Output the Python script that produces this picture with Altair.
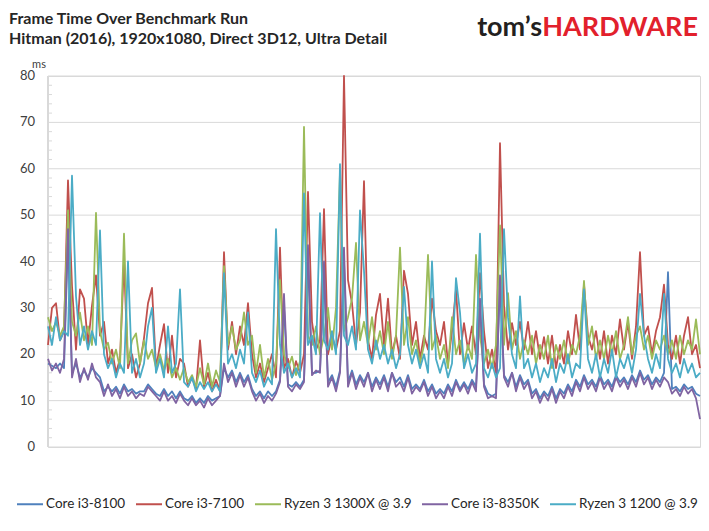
import altair as alt
import pandas as pd

series_names = ["Core i3-8100", "Core i3-7100", "Ryzen 3 1300X @ 3.9",
                "Core i3-8350K", "Ryzen 3 1200 @ 3.9"]
series_colors = ["#4F81BD", "#C0504D", "#9BBB59", "#8064A2", "#4BACC6"]

i3_8100 = [18, 17.5, 17, 18, 17, 45, 16, 18, 15, 16.5,
           15, 17, 16, 15, 12, 13, 12, 13, 11.5, 13.5,
           12, 12.5, 11.5, 12, 12, 13.5, 12.5, 11.5, 11, 12.5,
           11, 12, 10.5, 12, 10.5, 10, 11, 9.5, 10.5, 9.5,
           11, 10, 10.5, 11, 17, 15, 16.5, 14, 16, 14,
           15.5, 12.5, 11, 12, 10.5, 12, 11, 12, 14.5, 30,
           13.5, 13, 14, 13, 14.5, 40, 16, 16, 16.5, 37,
           14, 15.5, 13, 16.5, 40, 14, 16.5, 13.5, 15.5, 14,
           16, 13, 15, 13.5, 15.5, 13, 16, 14, 15, 13,
           15.5, 12.5, 13.5, 12.5, 14.5, 12, 13.5, 11.5, 12.5, 11.5,
           13.5, 12, 14.5, 12.5, 14, 12.5, 14.5, 13, 30, 13.5,
           11.5, 11, 11.5, 35, 15.5, 14, 16, 13, 15.5, 13.5,
           14.5, 11.5, 12.5, 10.5, 12, 11, 13, 10.5, 12.5, 11.5,
           13.5, 12, 14.5, 13, 15.5, 13.5, 14.5, 13, 15.5, 13.5,
           14.5, 13, 15.5, 14, 15, 13.5, 15.5, 14, 16.5, 14.5,
           15.5, 13.5, 15, 14, 16, 37.7, 12.5, 13, 12, 13.5,
           12.5, 13, 11.5, 11]

i3_7100 = [22, 30, 31, 23, 25, 57.5, 34.7, 21, 34, 32,
           22, 30.5, 37, 24, 27, 18, 21, 16, 19, 40,
           17, 20, 15, 18, 23.5, 31, 34.3, 17, 22, 26.5,
           16, 24, 15, 19, 18, 13, 15, 12.5, 23, 13,
           16, 12, 14.5, 12, 42, 21, 27, 20, 26, 22,
           31, 20, 15, 18, 14, 17, 20, 15, 43, 17,
           19, 15, 18.5, 16, 20, 55, 27, 21, 23, 51.3,
           20, 24, 21, 25, 80, 36, 31, 22, 29, 57.3,
           23, 19, 28.5, 33, 22, 32, 20, 24, 19, 38,
           33, 22, 27, 19, 24, 21, 32, 25, 22, 27,
           18, 25, 34, 20, 26.7, 21, 26, 20, 37.5, 25,
           17, 21, 16, 65.5, 30.5, 21, 26.7, 22, 27, 21,
           27, 20, 25, 19, 23.7, 18, 24, 17, 22, 18,
           25, 20, 28.5, 21, 35, 24, 21, 25, 19, 25,
           18, 24, 20, 27.5, 21, 27, 19, 26, 42, 24,
           26, 20, 25, 28, 35, 22, 19, 24, 18, 24,
           28, 20, 22, 17]

r3_1300x = [28, 25, 27, 24, 26, 51, 27, 24, 29, 23,
            26, 22, 50.5, 25, 21, 22.5, 18, 21, 17, 46,
            18, 23, 24.5, 18, 23, 19, 21, 17, 20, 16.5,
            19, 15, 17, 14.5, 17, 14, 15.5, 13, 17, 13.5,
            18, 13, 16.5, 14, 39, 22, 26, 21, 23, 29,
            22, 24, 16, 22, 15, 19, 14.5, 18, 36, 20,
            17, 19.5, 15.5, 18.5, 69, 24, 22, 26, 20, 24,
            30, 21, 30, 59.3, 25, 28, 32, 44, 23, 27,
            22, 28, 21, 25, 20, 27, 19, 24, 43, 22,
            28, 20, 23, 18, 22, 41.4, 21, 24, 19, 22,
            17, 28, 20, 23, 18, 22, 19, 41.4, 24, 18,
            21, 17, 22, 47.8, 22, 33.2, 21, 25, 19, 23,
            20, 24, 18, 22, 19, 24, 17, 22, 19, 23,
            18, 22, 20, 24, 35.8, 22, 26, 19, 23, 19,
            24, 20, 25, 19, 22, 28, 20, 24, 26, 21,
            24, 19, 23, 21, 24, 20, 23, 19, 24, 20,
            23, 21, 27.5, 20]

i3_8350k = [19, 16.5, 18, 16, 19, 47, 15, 19, 14, 17,
            14.5, 18, 15, 14, 11, 13.5, 11, 12.5, 10.5, 13,
            11, 12, 10.5, 11.5, 11, 13, 12, 11, 10, 12,
            10, 11, 9.5, 11.5, 10, 9, 10.5, 9, 10, 8.5,
            10.5, 9, 10, 11, 18, 14, 16, 13, 15.5, 13,
            15, 12, 10, 11.5, 9.5, 11, 10, 11.5, 14, 33,
            13, 12, 13.5, 12.5, 14, 43.5, 15.5, 16.5, 16, 40,
            13, 15, 12, 16, 43, 13, 16, 12.5, 15, 13,
            16, 12, 14.5, 12.5, 15, 12, 16, 13, 14, 12,
            15, 11.5, 13, 12, 14, 11, 13, 10.5, 12, 10.5,
            13, 11, 14, 12, 13.5, 11.5, 14, 12, 32, 13,
            10.5, 11, 10.5, 37, 15, 13, 16, 12, 15, 12.5,
            14, 10.5, 12, 9.5, 11.5, 10, 12.5, 9.5, 12, 10.5,
            13, 11, 14, 12, 15, 12.5, 14, 12, 15, 12.5,
            14, 12, 15, 13, 14.5, 12.5, 15, 13, 16, 13.5,
            15, 12.5, 14.5, 13, 15, 14, 11.5, 12.5, 11, 13,
            11.5, 12.5, 10.5, 6]

r3_1200 = [26, 22, 28, 23, 25, 24, 58.5, 32.5, 22, 26,
           21, 25, 22, 46.7, 20, 17, 19, 15, 18, 16,
           40, 16, 19, 15, 18, 26, 30, 16, 19, 15,
           26, 16, 18, 34, 14, 13, 15, 12, 14, 12.5,
           14, 12, 13.5, 12, 37.5, 18, 20, 17, 21, 18,
           29, 16, 14, 16.5, 13, 15, 13.5, 47, 22, 16,
           18, 15, 17, 15, 54.7, 22, 24, 20, 50.4, 23,
           21, 25, 20, 61, 24, 22, 26, 21, 51, 38,
           21, 18, 23, 19, 22, 18, 21, 17, 20, 34.5,
           22, 18, 21, 17, 20, 16, 40, 19, 16, 19,
           15, 18, 36.4, 29, 17, 20, 16, 18, 46, 17,
           15, 18, 15, 17, 47, 28, 20, 17, 32.5, 17,
           19, 15, 18, 14, 17, 15, 19, 14, 18, 16,
           20, 15, 18, 17, 34, 19, 16, 20, 15, 19,
           16, 21, 15, 19, 17, 20, 16, 21, 33, 24,
           19, 16, 20, 17, 33, 19, 16, 18, 15, 19,
           16, 18, 15, 16]

y_major_ticks = [0, 10, 20, 30, 40, 50, 60, 70, 80]
y_minor_ticks = [2, 4, 6, 8, 12, 14, 16, 18, 22, 24, 26, 28, 32, 34, 36, 38,
                 42, 44, 46, 48, 52, 54, 56, 58, 62, 64, 66, 68, 72, 74, 76, 78]

series_values = [i3_8100, i3_7100, r3_1300x, i3_8350k, r3_1200]
rows = []
for name, vals in zip(series_names, series_values):
    for i, v in enumerate(vals):
        rows.append({"sample": i, "series": name, "ms": v})
df = pd.DataFrame(rows)
n_samples = len(i3_8100)

W, H = 652, 371
FONT = "Lato"
yscale = alt.Scale(domain=[0, 80], nice=False, zero=True)
xscale = alt.Scale(domain=[0, n_samples - 1], nice=False, zero=False)
color_enc = alt.Color(
    "series:N",
    scale=alt.Scale(domain=series_names, range=series_colors),
    legend=alt.Legend(orient="none", legendX=-32, legendY=414,
                      direction="horizontal", title=None,
                      symbolType="stroke", symbolSize=676, symbolStrokeWidth=2,
                      labelFont=FONT, labelFontSize=13.5, labelColor="#262626",
                      labelOffset=2, columnPadding=6, padding=0),
)

major_df = pd.DataFrame({"v": y_major_ticks})

grid = alt.Chart(major_df).mark_rule(color="#d9d9d9", strokeWidth=1).encode(
    y=alt.Y("v:Q", scale=yscale, axis=None),
    x=alt.value(0), x2=alt.value(W),
)
ylabels = alt.Chart(major_df).mark_text(
    align="right", baseline="middle", font=FONT, fontSize=13, color="#404040"
).encode(
    y=alt.Y("v:Q", scale=yscale, axis=None),
    x=alt.value(-13),
    text="v:Q",
)
minor = alt.Chart(pd.DataFrame({"m": y_minor_ticks})).mark_rule(
    color="#d9d9d9", strokeWidth=1
).encode(
    y=alt.Y("m:Q", scale=yscale, axis=None),
    x=alt.value(0), x2=alt.value(4),
)
left_line = alt.Chart(major_df).mark_rule(color="#d9d9d9", strokeWidth=1).encode(
    x=alt.value(0), y=alt.value(0), y2=alt.value(H),
)

line_layers = []
for name in series_names:
    line_layers.append(
        alt.Chart(df).transform_filter(alt.datum.series == name)
        .mark_line(strokeWidth=1.8, strokeJoin="round")
        .encode(
            x=alt.X("sample:Q", scale=xscale, axis=None),
            y=alt.Y("ms:Q", scale=yscale, axis=None),
            color=color_enc,
        )
    )

blank = alt.Data(values=[{}])


def label(text, x, y, size, weight="bold", color="#262626", align="left"):
    return alt.Chart(blank).mark_text(
        text=text, align=align, baseline="alphabetic", font=FONT,
        fontSize=size, fontWeight=weight, color=color
    ).encode(x=alt.value(x), y=alt.value(y))


texts = [
    label("Frame Time Over Benchmark Run", -39, -52, 16),
    label("Hitman (2016), 1920x1080, Direct 3D12, Ultra Detail", -39, -32, 16),
    label("tom\u2019s", 494, -40, 27, color="#231f20", align="right"),
    label("HARDWARE", 650, -40, 27, color="#e2202c", align="right"),
    label("ms", -9, -8, 11, weight="normal", color="#404040", align="center"),
]

chart = alt.layer(grid, minor, left_line, ylabels, *line_layers, *texts).properties(
    width=W, height=H,
    autosize=alt.AutoSizeParams(type="none"),
    padding={"left": 40, "top": 68, "right": 1, "bottom": 76},
).configure_view(stroke="#d9d9d9")

chart.save("out.html", embed_options={"renderer": "svg", "actions": False})
